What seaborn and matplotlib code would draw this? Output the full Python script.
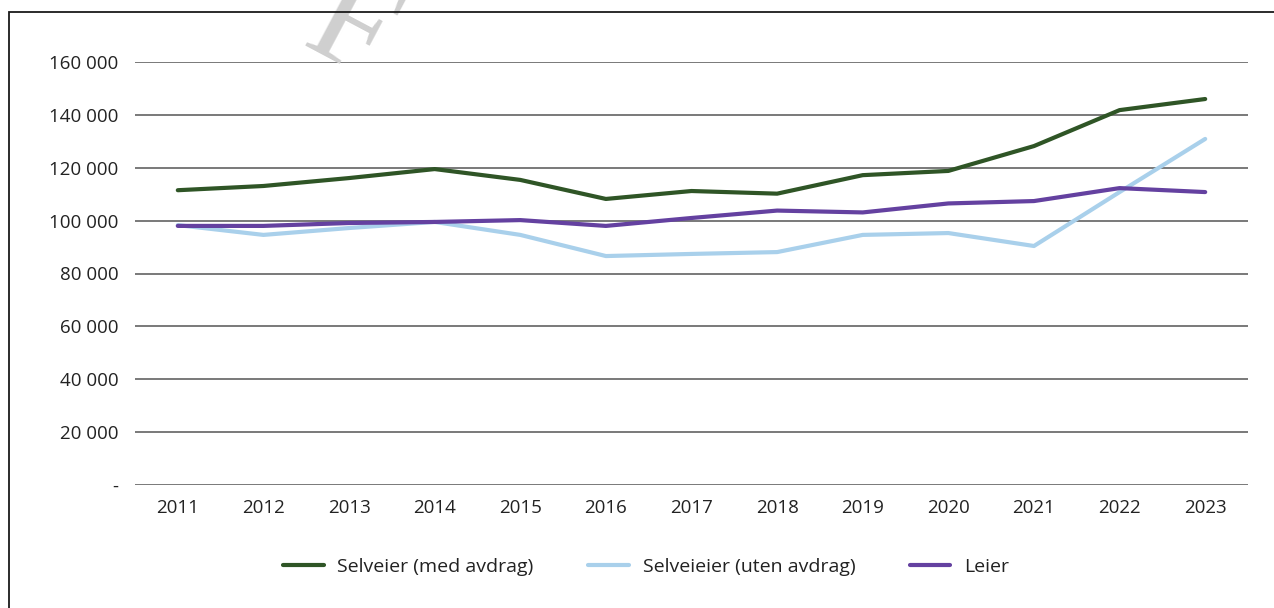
import pandas as pd
import numpy as np
import matplotlib.pyplot as plt
import seaborn as sns
from matplotlib.patches import Rectangle

years = list(range(2011, 2024))
selveier_med = [111500, 113100, 116100, 119500, 115400, 108200, 111200, 110200, 117200, 118800, 128200, 141800, 146000]
selveier_uten = [98300, 94600, 97200, 99500, 94600, 86600, 87400, 88100, 94600, 95300, 90400, 110800, 130900]
leier = [98000, 98000, 99100, 99500, 100200, 98000, 101000, 103800, 103100, 106500, 107400, 112300, 110800]

series_names = ["Selveier (med avdrag)", "Selveieier (uten avdrag)", "Leier"]
colors = ["#2F5526", "#A9D0EB", "#6441A0"]
yticks = [0, 20000, 40000, 60000, 80000, 100000, 120000, 140000, 160000]
ytick_labels = ["-", "20 000", "40 000", "60 000", "80 000", "100 000", "120 000", "140 000", "160 000"]

df = pd.DataFrame({
    "year": years * 3,
    "value": selveier_med + selveier_uten + leier,
    "serie": [series_names[0]] * 13 + [series_names[1]] * 13 + [series_names[2]] * 13,
})

sns.set_style("white")
plt.rcParams["font.family"] = ["Open Sans", "DejaVu Sans"]

W, H = 1274, 608
fig = plt.figure(figsize=(W / 100, H / 100), dpi=100)
ax = fig.add_axes([135 / W, 1 - 485 / H, (1248 - 135) / W, (485 - 62) / H])

# outer frame (only left/top visible in the crop)
fig.patches.append(Rectangle((8.5 / W, -0.2), 1.2, 1.2 - 12 / H, transform=fig.transFigure,
                             fill=False, edgecolor="#1a1a1a", linewidth=1.3, zorder=1))

# watermark fragment, cut by the top edge like in the source
fig.text(300 / W, 1 - 45 / H, "F", family="Liberation Serif", fontsize=100, color="#cfcfcf",
         rotation=-28, rotation_mode="anchor", ha="left", va="baseline", zorder=0)

for yv in yticks:
    ax.axhline(yv, color="#555555", linewidth=1.1, zorder=1)

sns.lineplot(data=df, x="year", y="value", hue="serie", palette=colors, linewidth=3.0,
             ax=ax, legend=False, zorder=3)
for line in ax.lines:
    line.set_solid_capstyle("round")

ax.set_xlim(2010.5, 2023.5)
ax.set_ylim(0, 160000)
ax.set_xticks(years)
ax.set_xticklabels([str(y) for y in years])
ax.set_yticks(yticks)
ax.set_yticklabels(ytick_labels)
ax.tick_params(axis="both", length=0, labelsize=13.5, colors="#222222")
ax.tick_params(axis="y", pad=12)
ax.tick_params(axis="x", pad=10)
ax.set_xlabel("")
ax.set_ylabel("")
for s in ax.spines.values():
    s.set_visible(False)
ax.patch.set_alpha(0)

handles = [plt.Line2D([], [], color=c, linewidth=3.0, solid_capstyle="round") for c in colors]
fig.legend(handles, series_names, loc="center", bbox_to_anchor=(646 / W, 1 - 567 / H), ncol=3,
           frameon=False, fontsize=14, handlelength=2.1, columnspacing=2.8, handletextpad=0.7,
           labelcolor="#222222")

fig.savefig("out.png", dpi=100)
